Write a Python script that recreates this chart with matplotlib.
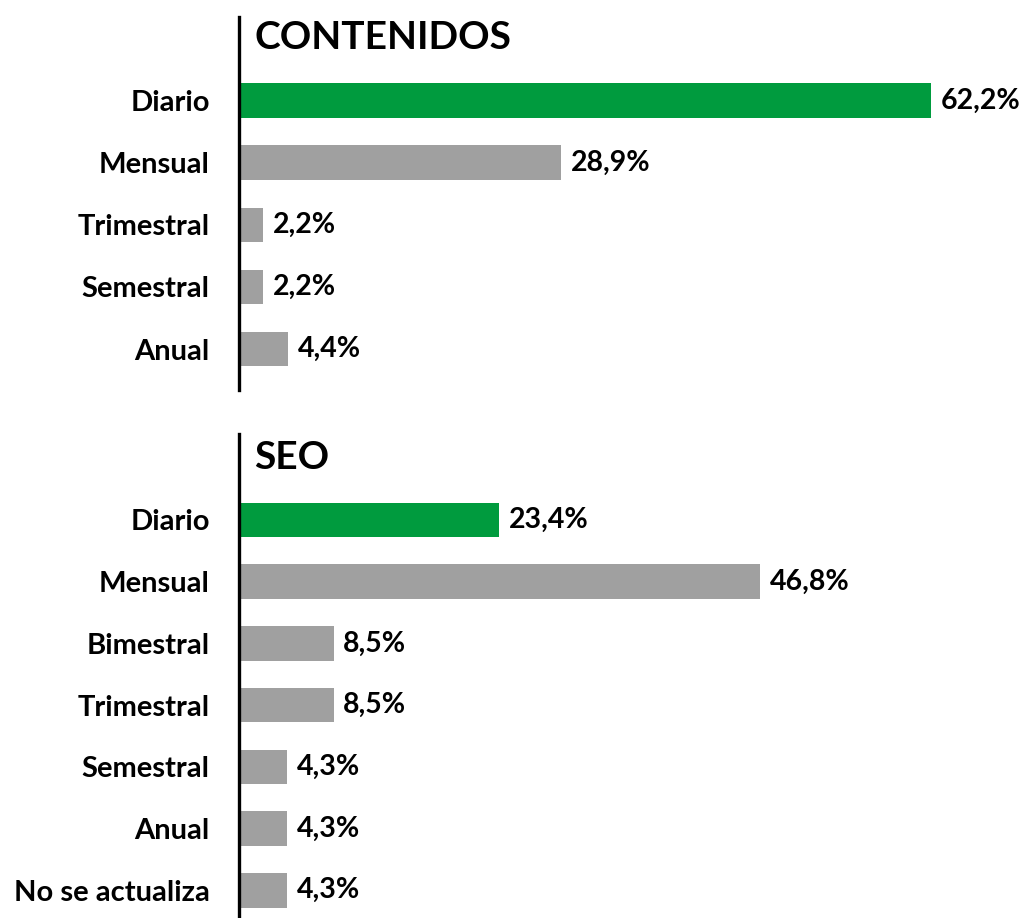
"""Frecuencia de actualizacion: contenidos y SEO (barras horizontales)."""

import matplotlib

matplotlib.use("Agg")
import matplotlib.pyplot as plt

plt.rcParams["font.family"] = ["Lato", "DejaVu Sans"]

GREEN = "#009B3E"
GRAY = "#A0A0A0"

contenidos_labels = ["Diario", "Mensual", "Trimestral", "Semestral", "Anual"]
contenidos_values = [62.2, 28.9, 2.2, 2.2, 4.4]

seo_labels = ["Diario", "Mensual", "Bimestral", "Trimestral", "Semestral",
              "Anual", "No se actualiza"]
seo_values = [23.4, 46.8, 8.5, 8.5, 4.3, 4.3, 4.3]

XMAX = 70


def _fmt(v: float) -> str:
    return f"{v:.1f}".replace(".", ",") + "%"


def draw_panel(ax, title, labels, values, below, above):
    n = len(values)
    ypos = list(range(n))
    colors = [GREEN] + [GRAY] * (n - 1)
    ax.barh(ypos, values, height=0.56, color=colors)
    ax.set_xlim(0, XMAX)
    ax.set_ylim(n - 1 + below, -above)

    for y, v in zip(ypos, values):
        ax.annotate(_fmt(v), xy=(v, y), xytext=(7, 0), textcoords="offset points",
                    ha="left", va="center", fontsize=20.5, fontweight="bold")

    ax.annotate(title, xy=(0, -1.02), xytext=(11, 0), textcoords="offset points",
                ha="left", va="center", fontsize=28, fontweight="bold")

    ax.set_yticks(ypos)
    ax.set_yticklabels(labels, fontsize=21, fontweight="bold")
    ax.tick_params(axis="y", length=0, pad=21)
    ax.set_xticks([])
    for side in ("top", "right", "bottom"):
        ax.spines[side].set_visible(False)
    ax.spines["left"].set_linewidth(2.4)
    ax.spines["left"].set_color("black")


fig = plt.figure(figsize=(10.24, 9.18), dpi=100)
ax_top = fig.add_axes([0.2334, 0.5752, 0.761, 0.4063])
ax_bot = fig.add_axes([0.2334, 0.0, 0.761, 0.527])

draw_panel(ax_top, "CONTENIDOS", contenidos_labels, contenidos_values, 0.66, 1.35)
draw_panel(ax_bot, "SEO", seo_labels, seo_values, 0.45, 1.39)

fig.savefig("out.png", dpi=100)
